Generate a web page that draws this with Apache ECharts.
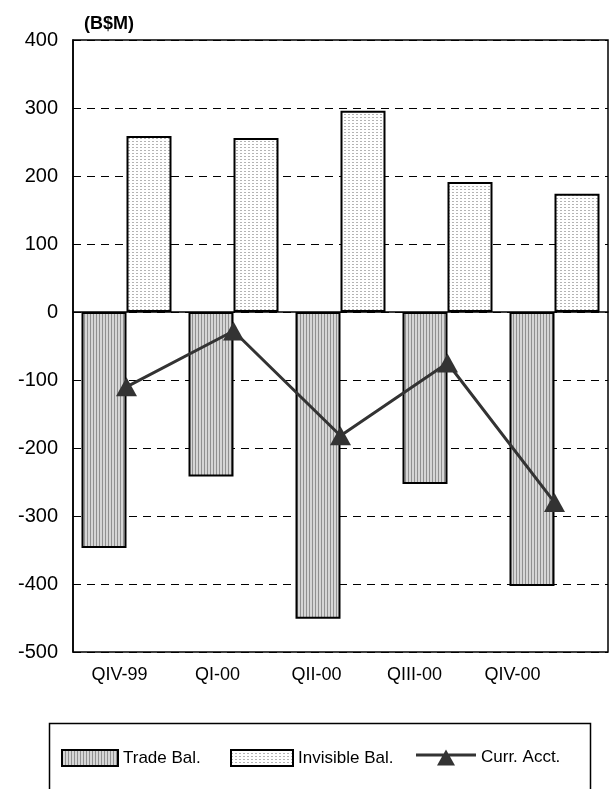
<!DOCTYPE html>
<html>
<head>
<meta charset="utf-8">
<script src="https://cdn.jsdelivr.net/npm/echarts@6/dist/echarts.min.js"></script>
<style>
  html, body { margin: 0; padding: 0; background: #fff; }
  #chart { width: 611px; height: 789px; }
</style>
</head>
<body>
<div id="chart"></div>
<script>
// Quarterly balances, B$M
const quarters = ['QIV-99', 'QI-00', 'QII-00', 'QIII-00', 'QIV-00'];
const tradeBal = [-347, -242, -451, -253, -403];
const invisibleBal = [259, 256, 296, 191, 174];
const currAcct = [-110, -28, -182, -75, -280];
const yTicks = { min: -500, max: 400, step: 100 };

const FONT = '"Liberation Sans", Arial, sans-serif';

// Fill patterns for the two bar series
function stripePattern() {
  const c = document.createElement('canvas');
  c.width = 3; c.height = 4;
  const g = c.getContext('2d');
  g.fillStyle = '#d6d6d6'; g.fillRect(0, 0, 3, 4);
  g.fillStyle = '#909090'; g.fillRect(0, 0, 1, 4);
  return { image: c, repeat: 'repeat' };
}
function dotPattern() {
  const c = document.createElement('canvas');
  c.width = 4; c.height = 3;
  const g = c.getContext('2d');
  g.fillStyle = '#ffffff'; g.fillRect(0, 0, 4, 3);
  g.fillStyle = '#b4b4b4'; g.fillRect(0, 0, 2, 1);
  return { image: c, repeat: 'repeat' };
}

// Category labels sit progressively left of their slot centres
const labelShift = [7, 16, 24, 33, 42];
const rich = {};
labelShift.forEach((s, i) => {
  rich['q' + i] = { fontFamily: FONT, fontSize: 18, color: '#000', padding: [0, s * 2, 0, 0] };
});

// Line-with-triangle key for the current account series
const lineKeyIcon = 'path://M0,4 L60,4 L60,7 L0,7 Z M21,16 L30,0 L39,16 Z';

const legendText = { fontFamily: FONT, fontSize: 17, color: '#000' };

const chart = echarts.init(document.getElementById('chart'), null, { renderer: 'canvas' });
chart.setOption({
  backgroundColor: '#fff',
  animation: false,
  title: {
    text: '(B$M)', left: 79, top: 10,
    textStyle: { fontFamily: FONT, fontSize: 18, fontWeight: 'bold', color: '#000' }
  },
  grid: {
    left: 73, right: 3, top: 40, bottom: 137,
    show: true, borderColor: '#000', borderWidth: 1.5, backgroundColor: 'transparent'
  },
  legend: [
    {
      left: 61, top: 749, padding: 0, itemWidth: 56, itemHeight: 16, icon: 'rect',
      textStyle: legendText, data: ['Trade Bal.']
    },
    {
      left: 230, top: 749, padding: 0, itemWidth: 62, itemHeight: 16, icon: 'rect',
      textStyle: legendText, data: ['Invisible Bal.']
    },
    {
      left: 416, top: 749, padding: 0, itemWidth: 60, itemHeight: 16,
      textStyle: legendText,
      data: [{ name: 'Curr. Acct.', icon: lineKeyIcon }]
    }
  ],
  graphic: [{
    type: 'rect', left: 47, top: 721, z: -1,
    shape: { width: 541, height: 120 },
    style: { fill: 'none', stroke: '#000', lineWidth: 1.5 }
  }],
  xAxis: {
    type: 'category', data: quarters,
    axisLine: { onZero: true, lineStyle: { color: '#000', width: 1.5 } },
    axisTick: { show: false },
    axisLabel: {
      margin: 14,
      formatter: (v, i) => '{q' + i + '|' + v + '}',
      rich: rich
    },
    position: 'bottom'
  },
  yAxis: {
    type: 'value', min: yTicks.min, max: yTicks.max, interval: yTicks.step,
    axisLine: { show: true, lineStyle: { color: '#000', width: 1.5 } },
    axisTick: { show: false },
    axisLabel: { fontFamily: FONT, fontSize: 20, color: '#000', margin: 15 },
    splitLine: { lineStyle: { color: '#000', width: 1, type: [8, 6] } }
  },
  series: [
    {
      name: 'Trade Bal.', type: 'bar', data: tradeBal,
      barWidth: 45, barGap: '0%',
      itemStyle: { color: stripePattern(), borderColor: '#000', borderWidth: 2 }
    },
    {
      name: 'Invisible Bal.', type: 'bar', data: invisibleBal,
      barWidth: 45,
      itemStyle: { color: dotPattern(), borderColor: '#000', borderWidth: 2 }
    },
    {
      name: 'Curr. Acct.', type: 'line', data: currAcct, z: 5,
      symbol: 'triangle', symbolSize: [21, 19],
      lineStyle: { color: '#333', width: 3 },
      itemStyle: { color: '#333', borderColor: '#333', borderWidth: 0 }
    }
  ]
});
</script>
</body>
</html>
